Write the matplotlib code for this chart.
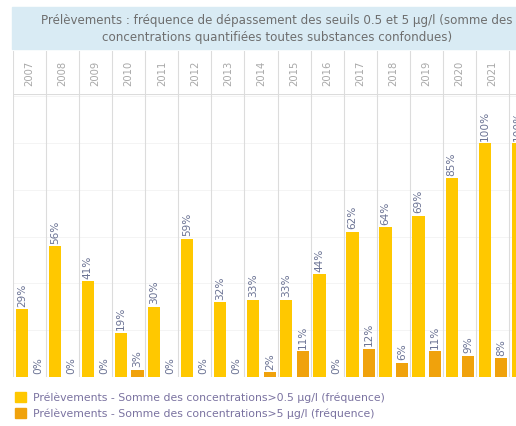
import numpy as np
import matplotlib
matplotlib.use("Agg")
import matplotlib.pyplot as plt
from matplotlib.patches import Rectangle

# Data (last column is cut off in the original)
years = ['2007', '2008', '2009', '2010', '2011', '2012', '2013', '2014',
         '2015', '2016', '2017', '2018', '2019', '2020', '2021', '2022']
freq_05 = [29, 56, 41, 19, 30, 59, 32, 33, 33, 44, 62, 64, 69, 85, 100, 100]
freq_5 = [0, 0, 0, 3, 0, 0, 0, 2, 11, 0, 12, 6, 11, 9, 8, np.nan]

title = ("Prélèvements : fréquence de dépassement des seuils 0.5 et 5 µg/l (somme des\n"
         "concentrations quantifiées toutes substances confondues)")
legend_labels = ["Prélèvements - Somme des concentrations>0.5 µg/l (fréquence)",
                 "Prélèvements - Somme des concentrations>5 µg/l (fréquence)"]

yellow = '#FFC800'
orange = '#F0A20C'
grid_c = '#dcdcdc'
lab_c = '#6b7394'

W, H = 516, 427
fig = plt.figure(figsize=(W / 100, H / 100), dpi=100)

col_w = 33.07
left, right = 13, 516
top, bottom = 95, 378
xmax = (right - left) / col_w

# title band
fig.patches.append(Rectangle((12 / W, 1 - 50 / H), (516 - 12) / W, 42 / H,
                             transform=fig.transFigure, color='#d9ebf4', zorder=0))
fig.text(277 / W, 1 - 29 / H, title, ha='center', va='center', fontsize=8.6,
         color='#6e6e6e', linespacing=1.4)

# header with years
hax = fig.add_axes([left / W, 1 - top / H, (right - left) / W, (top - 52) / H])
hax.set_xlim(0, xmax)
hax.set_ylim(0, 1)
hax.axis('off')
for i, y in enumerate(years[:-1]):
    hax.text(i + 0.5, 0.5, y, rotation=90, ha='center', va='center',
             fontsize=7.2, color='#a8a8a8')
for i in range(len(years)):
    hax.axvline(i, color=grid_c, lw=0.8)

# main plot
ax = fig.add_axes([left / W, 1 - bottom / H, (right - left) / W, (bottom - top) / H])
ax.set_xlim(0, xmax)
ax.set_ylim(0, 121)
ax.axis('off')
for g in range(20, 121, 20):
    ax.axhline(g, color='#f2f2f2', lw=0.6, zorder=0)
for i in range(len(years)):
    ax.axvline(i, color=grid_c, lw=0.8, zorder=0)
ax.axhline(121, color=grid_c, lw=0.8)

x = np.arange(len(years))
bw = 0.37
ax.bar(x + 0.08, freq_05, width=bw, align='edge', color=yellow, zorder=2)
v5 = np.nan_to_num(freq_5)
ax.bar(x + 0.58, v5, width=bw, align='edge', color=orange, zorder=2)

for i in range(len(years)):
    ax.text(i + 0.08 + bw / 2, freq_05[i] + 1.5, f"{freq_05[i]}%", rotation=90,
            ha='center', va='bottom', fontsize=7.6, color=lab_c, zorder=3)
    if not np.isnan(freq_5[i]):
        ax.text(i + 0.58 + bw / 2, freq_5[i] + 1.5, f"{int(freq_5[i])}%", rotation=90,
                ha='center', va='bottom', fontsize=7.6, color=lab_c, zorder=3)

# legend
for k, (lab, c) in enumerate(zip(legend_labels, [yellow, orange])):
    yy = 398 + k * 16
    fig.patches.append(Rectangle((15 / W, 1 - (yy + 5) / H), 11 / W, 10 / H,
                                 transform=fig.transFigure, color=c))
    fig.text(33 / W, 1 - yy / H, lab, ha='left', va='center', fontsize=7.8,
             color='#7a72a0')

fig.savefig('out.png', dpi=100)
